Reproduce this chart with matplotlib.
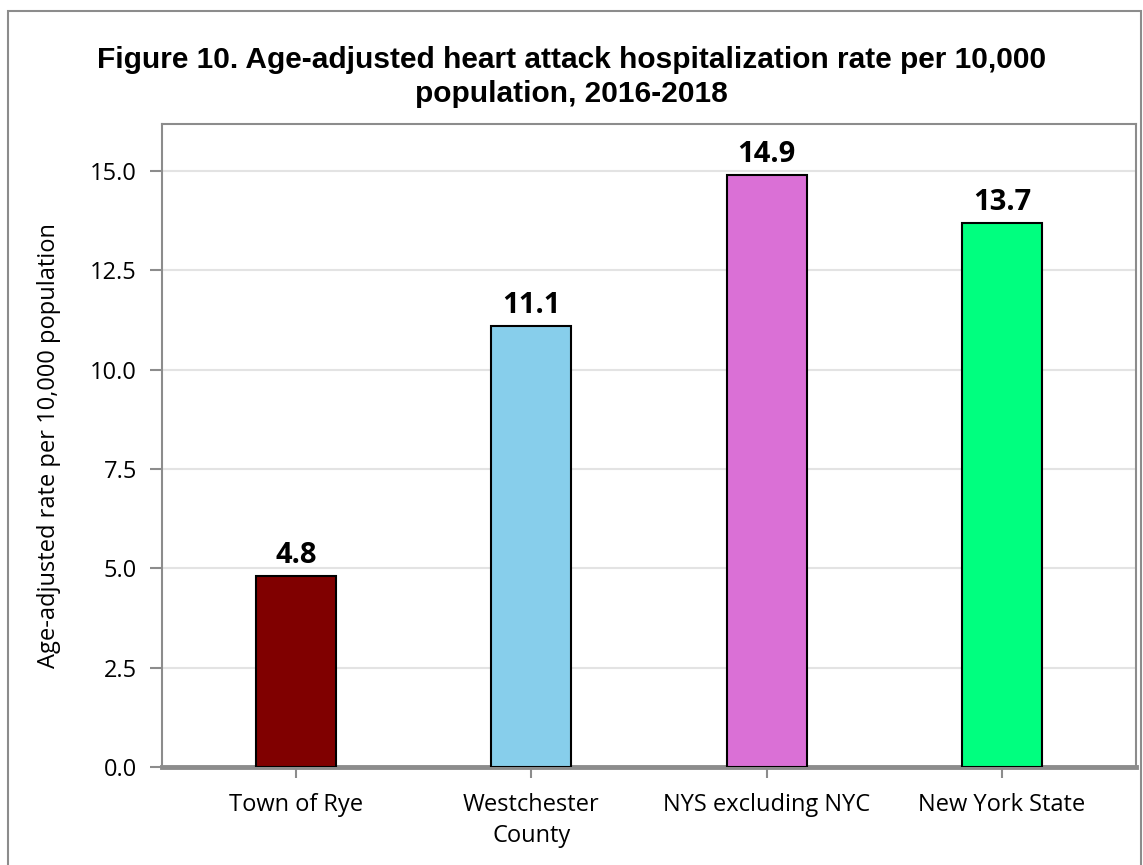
import matplotlib.pyplot as plt
from matplotlib.patches import Rectangle

# data
regions = ["Town of Rye", "Westchester\nCounty", "NYS excluding NYC", "New York State"]
rates = [4.8, 11.1, 14.9, 13.7]
bar_colors = ["#800000", "#87CEEB", "#DA70D6", "#00FF7F"]
yticks = [0.0, 2.5, 5.0, 7.5, 10.0, 12.5, 15.0]

plt.rcParams["font.family"] = ["Open Sans", "DejaVu Sans"]

fig = plt.figure(figsize=(11.43, 8.65), dpi=100)
ax = fig.add_axes([162 / 1143, 1 - 767 / 865, (1136 - 162) / 1143, (767 - 124) / 865])

# outer frame
fig.patches.append(Rectangle((8 / 1143, -0.01), 1133 / 1143, 1 - 11 / 865 + 0.01,
                             transform=fig.transFigure, fill=False,
                             edgecolor="#8c8c8c", linewidth=1.5))

x = range(len(regions))
ax.bar(x, rates, width=0.34, color=bar_colors, edgecolor="black", linewidth=1.5, zorder=3)

for xi, v in zip(x, rates):
    ax.text(xi, v + 0.15, f"{v:.1f}", ha="center", va="bottom",
            fontsize=21, fontweight="bold", zorder=4)

ax.set_xlim(-0.57, 3.57)
ax.set_ylim(0, 16.18)
ax.set_yticks(yticks)
ax.set_yticklabels([f"{t:.1f}" for t in yticks], fontsize=17)
ax.set_xticks(list(x))
ax.set_xticklabels(regions, fontsize=17, linespacing=1.35)
ax.grid(axis="y", color="#e3e3e3", linewidth=1.5, zorder=0)

for s in ["left", "top", "right"]:
    ax.spines[s].set_color("#8c8c8c")
    ax.spines[s].set_linewidth(1.5)
ax.spines["bottom"].set_color("#8c8c8c")
ax.spines["bottom"].set_linewidth(3.5)
ax.tick_params(axis="both", colors="#8c8c8c", labelcolor="black", width=1.5)
ax.tick_params(axis="y", length=9, pad=9)
ax.tick_params(axis="x", length=8, pad=11)

ax.set_ylabel("Age-adjusted rate per 10,000 population", fontsize=17, labelpad=21)

fig.text(0.5, 1 - 77 / 865,
         "Figure 10. Age-adjusted heart attack hospitalization rate per 10,000\npopulation, 2016-2018",
         ha="center", va="center", fontsize=21.5, fontweight="bold",
         family=["Liberation Sans", "DejaVu Sans"], linespacing=1.25)

fig.savefig("out.png", dpi=100)
